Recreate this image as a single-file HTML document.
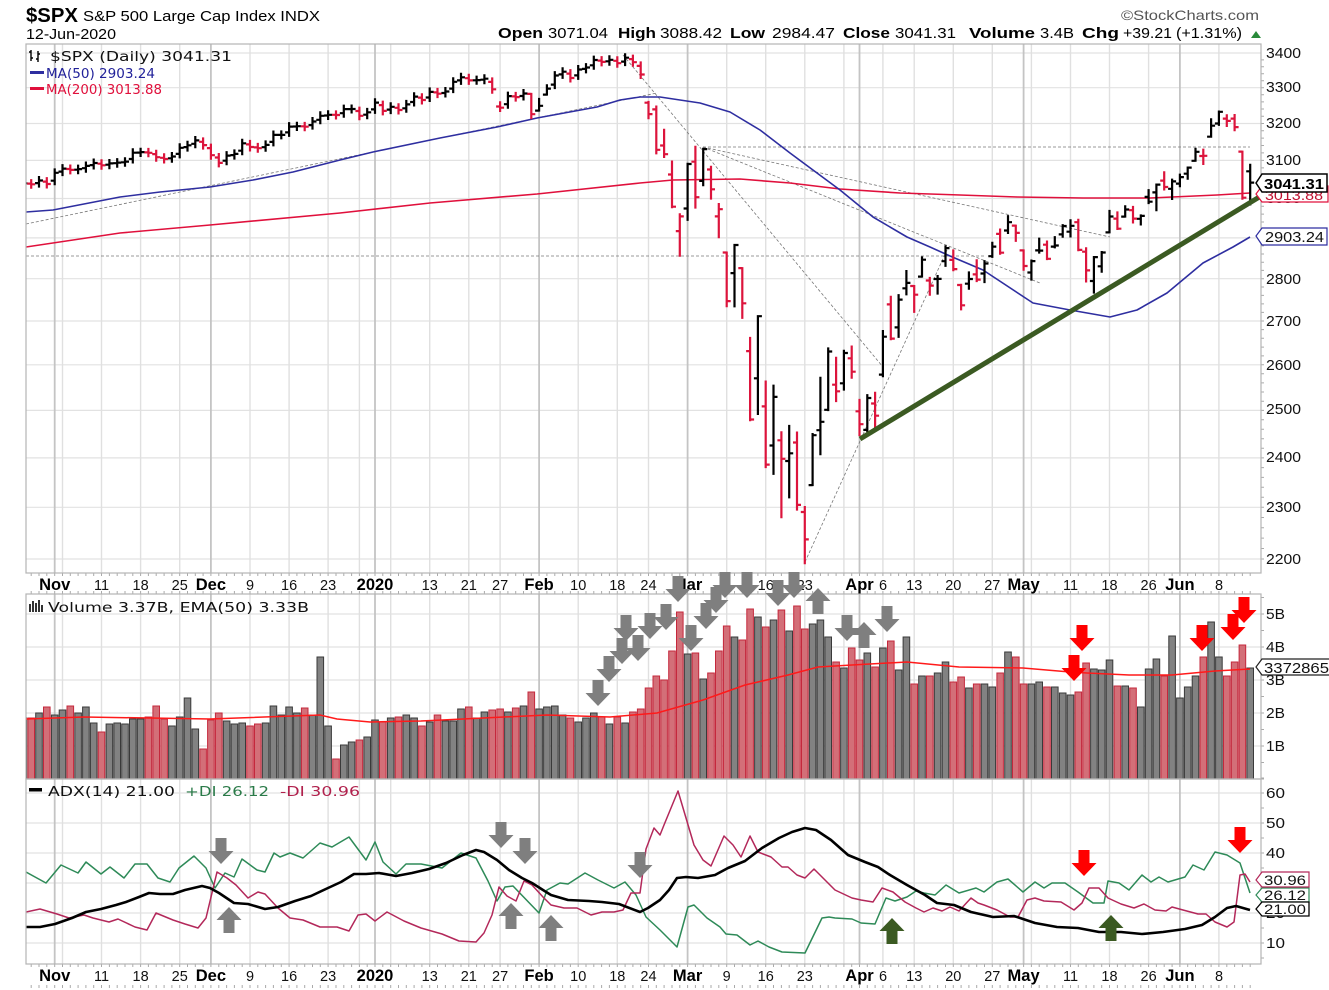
<!DOCTYPE html>
<html><head><meta charset="utf-8">
<style>
html,body{margin:0;padding:0;background:#fff;overflow:hidden;}
svg{display:block;}
text{font-family:"Liberation Sans",Arial,sans-serif;}
.lg{font-family:"DejaVu Sans","Liberation Sans",sans-serif;font-size:13px;}
.ax{font-size:14.5px;fill:#111;}
.mo{font-size:16.5px;font-weight:bold;fill:#000;}
.dy{font-size:14.5px;fill:#111;}
.hb{font-size:15px;font-weight:bold;fill:#000;}
.hn{font-size:15px;fill:#000;}
</style></head><body>
<svg id="s" width="1329" height="990" viewBox="0 0 1329 990" xmlns="http://www.w3.org/2000/svg">
<defs>
<clipPath id="cp"><rect x="26" y="44" width="1235" height="529"/></clipPath>
<clipPath id="cv"><rect x="26" y="594" width="1235" height="185"/></clipPath>
<clipPath id="ca"><rect x="26" y="779" width="1235" height="185"/></clipPath>
</defs>
<rect width="1329" height="990" fill="#fff"/>
<g id="grid"></g>
<g id="ticks"></g>

<!-- PRICE PANEL -->
<g clip-path="url(#cp)">
<g fill="none" stroke="#777" stroke-width="0.8" stroke-dasharray="3 2">
<line x1="26" y1="224" x2="657" y2="93"/>
<line x1="26" y1="256" x2="985" y2="256"/>
<line x1="703" y1="147" x2="1250" y2="147"/>
<line x1="703" y1="147" x2="1110" y2="237"/>
<line x1="703" y1="147" x2="1040" y2="283"/>
<line x1="623" y1="55" x2="883" y2="367"/>
<line x1="805" y1="562" x2="947" y2="250"/>
</g>
<polyline fill="none" stroke="#e0103c" stroke-width="1.6" points="26,247 120,233 210,225 340,213 430,203 537,194 640,183 673,180 740,179 790,183 840,189 900,193 960,195 1017,197 1083,198 1150,198 1217,195 1250,193"/>
<polyline fill="none" stroke="#2e2ea0" stroke-width="1.6" stroke-linejoin="round" points="26,212 53,210 120,197 160,192 210,187 253,180 293,172 340,160 373,152 440,138 497,127 537,118 597,107 620,100 640,97 660,97 700,103 730,112 760,130 790,153 817,173 840,190 873,217 907,237 930,247 950,256 983,270 1033,303 1070,310 1110,317 1137,310 1167,293 1203,263 1233,247 1250,237"/>
<g id="pb"></g>
<line x1="860" y1="439" x2="1261" y2="196" stroke="#3b5a22" stroke-width="5"/>
</g>

<!-- VOLUME PANEL -->
<g clip-path="url(#cv)">
<g id="vb"></g>
<polyline fill="none" stroke="#ff1a1a" stroke-width="1.5" points="26,719 84,717 210,719 320,715 337,719 370,722 421,721 463,719 547,715 610,717 657,713 703,700 745,685 788,675 818,667 852,665 907,662 959,667 1023,668 1070,672 1087,673 1129,675 1172,675 1215,671 1250,669"/>
</g>

<!-- ADX PANEL -->
<g clip-path="url(#ca)" fill="none" stroke-linejoin="round">
<polyline stroke="#2e8a58" stroke-width="1.5" points="26,872 46,883 61,865 78,873 86,862 101,874 110,867 124,878 135,864 147,864 158,878 170,882 179,868 194,856 206,868 215,888 225,873 234,877 242,859 257,870 265,872 274,853 280,857 290,853 303,858 320,843 332,847 349,837 366,860 375,842 383,862 396,874 406,864 421,864 442,868 461,853 476,858 488,881 497,901 505,887 513,886 539,913 547,890 560,883 568,884 585,873 598,880 614,888 625,882 636,895 646,917 660,930 677,947 688,907 694,905 707,918 720,927 726,934 737,935 750,945 758,941 769,947 782,952 805,953 822,918 829,917 835,918 852,919 861,923 875,924 886,898 895,901 907,897 916,891 924,893 935,895 946,885 959,893 976,888 984,892 997,882 1008,879 1023,892 1035,882 1044,888 1052,883 1065,883 1078,892 1093,903 1104,903 1108,881 1119,883 1129,890 1142,875 1151,882 1159,877 1168,882 1185,877 1193,865 1204,870 1215,852 1227,855 1240,863 1246,881 1250,893"/>
<polyline stroke="#b3285a" stroke-width="1.5" points="26,912 40,909 57,914 69,918 84,915 93,918 109,922 118,919 135,927 147,930 156,913 173,920 185,924 198,928 206,918 217,872 227,878 236,885 248,898 258,892 265,894 278,908 290,918 303,920 320,927 337,927 349,931 358,915 366,914 375,921 387,912 404,921 421,928 442,934 459,941 476,942 484,933 492,915 499,887 507,896 516,901 524,881 532,885 543,897 551,905 564,908 577,908 591,915 602,912 614,912 623,910 631,893 640,893 646,849 654,828 660,835 664,825 671,808 678,791 686,818 694,845 703,860 711,866 724,836 733,845 741,857 750,836 758,852 771,857 782,867 788,867 797,875 805,878 814,869 822,877 835,890 852,898 861,900 873,902 882,888 893,892 905,902 916,908 924,912 933,908 942,911 950,907 959,911 971,898 978,903 984,905 997,910 1010,917 1018,917 1027,900 1035,898 1044,901 1061,902 1074,910 1082,903 1089,888 1099,888 1108,898 1121,904 1134,908 1144,904 1155,910 1166,911 1172,907 1183,910 1198,914 1206,914 1215,922 1227,927 1234,922 1240,875 1245,874 1250,882"/>
<polyline stroke="#000" stroke-width="2.6" points="26,927 40,927 55,924 72,918 86,912 101,909 116,905 126,902 139,897 149,893 160,894 173,894 185,890 202,886 210,888 219,893 234,903 248,904 265,909 278,907 295,901 311,896 328,888 341,882 354,874 366,874 379,873 396,876 412,873 429,869 446,863 463,855 476,850 484,852 497,860 509,870 522,878 532,883 543,890 551,895 568,900 589,901 602,902 619,904 640,912 648,908 660,900 669,890 677,878 686,877 698,878 715,875 728,868 745,861 762,848 779,838 792,832 805,828 816,830 831,840 848,855 865,862 878,867 890,875 907,885 925,895 937,903 954,905 971,912 993,917 1014,916 1035,923 1057,927 1078,928 1099,932 1121,932 1142,934 1163,932 1185,929 1202,925 1215,917 1227,908 1236,906 1250,910"/>
</g>

<!-- Panel borders -->
<g fill="none" stroke="#b4b4b4" stroke-width="1.2">
<rect x="26" y="44" width="1235" height="529"/>
<rect x="26" y="594" width="1235" height="185"/>
<rect x="26" y="779" width="1235" height="185"/>
</g>

<!-- Header -->
<text x="26" y="22" font-size="20" font-weight="bold" textLength="52" lengthAdjust="spacingAndGlyphs">$SPX</text>
<text x="83" y="21" font-size="15" textLength="237" lengthAdjust="spacingAndGlyphs">S&amp;P 500 Large Cap Index  INDX</text>
<text x="26" y="39" font-size="14.5" textLength="90" lengthAdjust="spacingAndGlyphs">12-Jun-2020</text>
<text x="1121" y="20" font-size="14" fill="#555" textLength="138" lengthAdjust="spacingAndGlyphs">©StockCharts.com</text>
<text x="498" y="38" class="hb" textLength="45" lengthAdjust="spacingAndGlyphs">Open</text>
<text x="548" y="38" class="hn" textLength="60" lengthAdjust="spacingAndGlyphs">3071.04</text>
<text x="618" y="38" class="hb" textLength="38" lengthAdjust="spacingAndGlyphs">High</text>
<text x="660" y="38" class="hn" textLength="62" lengthAdjust="spacingAndGlyphs">3088.42</text>
<text x="730" y="38" class="hb" textLength="35" lengthAdjust="spacingAndGlyphs">Low</text>
<text x="772" y="38" class="hn" textLength="63" lengthAdjust="spacingAndGlyphs">2984.47</text>
<text x="843" y="38" class="hb" textLength="47" lengthAdjust="spacingAndGlyphs">Close</text>
<text x="895" y="38" class="hn" textLength="61" lengthAdjust="spacingAndGlyphs">3041.31</text>
<text x="969" y="38" class="hb" textLength="66" lengthAdjust="spacingAndGlyphs">Volume</text>
<text x="1040" y="38" class="hn" textLength="34" lengthAdjust="spacingAndGlyphs">3.4B</text>
<text x="1082" y="38" class="hb" textLength="37" lengthAdjust="spacingAndGlyphs">Chg</text>
<text x="1123" y="38" class="hn" textLength="49" lengthAdjust="spacingAndGlyphs">+39.21</text>
<text x="1176" y="38" class="hn" textLength="66" lengthAdjust="spacingAndGlyphs">(+1.31%)</text>
<path d="M1251 38 L1256 31 L1261 38 Z" fill="#2a8a3a"/>

<!-- Price legend -->
<path d="M31 50V61M29 52H31M31 58H33M38 51V62M36 59H38M38 54H40" stroke="#000" stroke-width="1.4" fill="none"/>
<text x="50" y="61" class="lg" fill="#111" textLength="182" lengthAdjust="spacingAndGlyphs">$SPX (Daily) 3041.31</text>
<rect x="30" y="71" width="14" height="3" fill="#2e2ea0"/>
<text x="46" y="78" class="lg" fill="#22229a" textLength="109" lengthAdjust="spacingAndGlyphs">MA(50) 2903.24</text>
<rect x="30" y="87" width="14" height="3" fill="#e0103c"/>
<text x="46" y="94" class="lg" fill="#e0103c" textLength="116" lengthAdjust="spacingAndGlyphs">MA(200) 3013.88</text>

<!-- Volume legend -->
<path d="M30 612V604M33 612V601M36 612V603M39 612V600M42 612V605" stroke="#333" stroke-width="2" fill="none"/>
<text x="48" y="612" class="lg" fill="#111" textLength="261" lengthAdjust="spacingAndGlyphs">Volume 3.37B, EMA(50) 3.33B</text>

<!-- ADX legend -->
<rect x="29" y="788" width="13" height="3.5" fill="#000"/>
<text x="48" y="796" class="lg" fill="#111" textLength="127" lengthAdjust="spacingAndGlyphs">ADX(14) 21.00</text>
<text x="185" y="796" class="lg" fill="#2a7a48" textLength="84" lengthAdjust="spacingAndGlyphs">+DI 26.12</text>
<text x="280" y="796" class="lg" fill="#b0204c" textLength="80" lengthAdjust="spacingAndGlyphs">-DI 30.96</text>

<!-- Right axis: price -->
<g class="ax">
<text x="1266" y="58" textLength="35" lengthAdjust="spacingAndGlyphs">3400</text>
<text x="1266" y="92" textLength="35" lengthAdjust="spacingAndGlyphs">3300</text>
<text x="1266" y="128" textLength="35" lengthAdjust="spacingAndGlyphs">3200</text>
<text x="1266" y="165" textLength="35" lengthAdjust="spacingAndGlyphs">3100</text>
<text x="1266" y="203" textLength="35" lengthAdjust="spacingAndGlyphs">3000</text>
<text x="1266" y="242" textLength="35" lengthAdjust="spacingAndGlyphs">2900</text>
<text x="1266" y="284" textLength="35" lengthAdjust="spacingAndGlyphs">2800</text>
<text x="1266" y="326" textLength="35" lengthAdjust="spacingAndGlyphs">2700</text>
<text x="1266" y="370" textLength="35" lengthAdjust="spacingAndGlyphs">2600</text>
<text x="1266" y="414" textLength="35" lengthAdjust="spacingAndGlyphs">2500</text>
<text x="1266" y="462" textLength="35" lengthAdjust="spacingAndGlyphs">2400</text>
<text x="1266" y="512" textLength="35" lengthAdjust="spacingAndGlyphs">2300</text>
<text x="1266" y="564" textLength="35" lengthAdjust="spacingAndGlyphs">2200</text>
<!-- volume -->
<text x="1266" y="619" textLength="19" lengthAdjust="spacingAndGlyphs">5B</text>
<text x="1266" y="652" textLength="19" lengthAdjust="spacingAndGlyphs">4B</text>
<text x="1266" y="685" textLength="19" lengthAdjust="spacingAndGlyphs">3B</text>
<text x="1266" y="718" textLength="19" lengthAdjust="spacingAndGlyphs">2B</text>
<text x="1266" y="751" textLength="19" lengthAdjust="spacingAndGlyphs">1B</text>
<!-- adx -->
<text x="1266" y="798" textLength="19" lengthAdjust="spacingAndGlyphs">60</text>
<text x="1266" y="828" textLength="19" lengthAdjust="spacingAndGlyphs">50</text>
<text x="1266" y="858" textLength="19" lengthAdjust="spacingAndGlyphs">40</text>
<text x="1266" y="888" textLength="19" lengthAdjust="spacingAndGlyphs">30</text>
<text x="1266" y="918" textLength="19" lengthAdjust="spacingAndGlyphs">20</text>
<text x="1266" y="948" textLength="19" lengthAdjust="spacingAndGlyphs">10</text>
</g>

<!-- X axis labels (price panel) -->
<g text-anchor="middle">
<text x="54.7" y="590" class="mo">Nov</text>
<text x="101.5" y="590" class="dy">11</text>
<text x="140.6" y="590" class="dy">18</text>
<text x="179.7" y="590" class="dy">25</text>
<text x="210.9" y="590" class="mo">Dec</text>
<text x="250" y="590" class="dy">9</text>
<text x="289.1" y="590" class="dy">16</text>
<text x="328.1" y="590" class="dy">23</text>
<text x="375" y="590" class="mo">2020</text>
<text x="429.7" y="590" class="dy">13</text>
<text x="468.8" y="590" class="dy">21</text>
<text x="500.1" y="590" class="dy">27</text>
<text x="539.1" y="590" class="mo">Feb</text>
<text x="578.2" y="590" class="dy">10</text>
<text x="617.3" y="590" class="dy">18</text>
<text x="648.5" y="590" class="dy">24</text>
<text x="687.6" y="590" class="mo">Mar</text>
<text x="726.7" y="590" class="dy">9</text>
<text x="765.7" y="590" class="dy">16</text>
<text x="804.8" y="590" class="dy">23</text>
<text x="859.5" y="590" class="mo">Apr</text>
<text x="883" y="590" class="dy">6</text>
<text x="914.2" y="590" class="dy">13</text>
<text x="953.3" y="590" class="dy">20</text>
<text x="992.3" y="590" class="dy">27</text>
<text x="1023.6" y="590" class="mo">May</text>
<text x="1070.5" y="590" class="dy">11</text>
<text x="1109.5" y="590" class="dy">18</text>
<text x="1148.6" y="590" class="dy">26</text>
<text x="1179.9" y="590" class="mo">Jun</text>
<text x="1219" y="590" class="dy">8</text>
</g>
<!-- X axis labels (bottom) -->
<g text-anchor="middle">
<text x="54.7" y="981" class="mo">Nov</text>
<text x="101.5" y="981" class="dy">11</text>
<text x="140.6" y="981" class="dy">18</text>
<text x="179.7" y="981" class="dy">25</text>
<text x="210.9" y="981" class="mo">Dec</text>
<text x="250" y="981" class="dy">9</text>
<text x="289.1" y="981" class="dy">16</text>
<text x="328.1" y="981" class="dy">23</text>
<text x="375" y="981" class="mo">2020</text>
<text x="429.7" y="981" class="dy">13</text>
<text x="468.8" y="981" class="dy">21</text>
<text x="500.1" y="981" class="dy">27</text>
<text x="539.1" y="981" class="mo">Feb</text>
<text x="578.2" y="981" class="dy">10</text>
<text x="617.3" y="981" class="dy">18</text>
<text x="648.5" y="981" class="dy">24</text>
<text x="687.6" y="981" class="mo">Mar</text>
<text x="726.7" y="981" class="dy">9</text>
<text x="765.7" y="981" class="dy">16</text>
<text x="804.8" y="981" class="dy">23</text>
<text x="859.5" y="981" class="mo">Apr</text>
<text x="883" y="981" class="dy">6</text>
<text x="914.2" y="981" class="dy">13</text>
<text x="953.3" y="981" class="dy">20</text>
<text x="992.3" y="981" class="dy">27</text>
<text x="1023.6" y="981" class="mo">May</text>
<text x="1070.5" y="981" class="dy">11</text>
<text x="1109.5" y="981" class="dy">18</text>
<text x="1148.6" y="981" class="dy">26</text>
<text x="1179.9" y="981" class="mo">Jun</text>
<text x="1219" y="981" class="dy">8</text>
</g>

<g id="arr"></g>

<!-- Value tags: price -->
<path d="M1256 194 L1262 186 H1328 V202 H1262 Z" fill="#fff" stroke="#e0103c" stroke-width="1.2"/>
<text x="1265" y="200" font-size="14" fill="#c01030" textLength="58" lengthAdjust="spacingAndGlyphs">3013.88</text>
<path d="M1256 183 L1262 174 H1327 V192 H1262 Z" fill="#fff" stroke="#000" stroke-width="1.5"/>
<text x="1264" y="189" font-size="15" font-weight="bold" textLength="60" lengthAdjust="spacingAndGlyphs">3041.31</text>
<path d="M1256 236 L1262 228 H1327 V245 H1262 Z" fill="#fff" stroke="#2e2ea0" stroke-width="1.2"/>
<text x="1265" y="242" font-size="14.5" fill="#111" textLength="59" lengthAdjust="spacingAndGlyphs">2903.24</text>
<!-- volume tag -->
<path d="M1256 667 L1262 659 H1331 V675 H1262 Z" fill="#fff" stroke="#222" stroke-width="1.2"/>
<text x="1264" y="673" font-size="14.5" fill="#111" textLength="65" lengthAdjust="spacingAndGlyphs">3372865</text>
<!-- ADX tags -->
<path d="M1256 895 L1262 888 H1309 V902 H1262 Z" fill="#fff" stroke="#2e8a58" stroke-width="1.2"/>
<text x="1264" y="900" font-size="14" fill="#111" textLength="42" lengthAdjust="spacingAndGlyphs">26.12</text>
<path d="M1256 880 L1262 872 H1309 V887 H1262 Z" fill="#fff" stroke="#b3285a" stroke-width="1.2"/>
<text x="1264" y="885" font-size="14" fill="#111" textLength="42" lengthAdjust="spacingAndGlyphs">30.96</text>
<path d="M1256 909 L1262 902 H1309 V916 H1262 Z" fill="#fff" stroke="#000" stroke-width="1.3"/>
<text x="1264" y="914" font-size="14" fill="#111" textLength="42" lengthAdjust="spacingAndGlyphs">21.00</text>
</svg>

<script>
(function(){
var NS="http://www.w3.org/2000/svg";
function add(g,tag,a){var e=document.createElementNS(NS,tag);for(var k in a)e.setAttribute(k,a[k]);document.getElementById(g).appendChild(e);return e;}
function X(i){return 23.4+7.814*i;}
function PY(v){return 53+1162.4*Math.log(3400/v);}
function f(n){return n.toFixed(1);}
var C=[3039.42,3036.89,3046.77,3037.56,3066.91,3078.27,3074.62,3076.78,3085.18,3093.08,
3087.01,3091.84,3094.04,3096.63,3120.46,3122.03,3120.18,3108.46,3103.54,3110.29,
3133.64,3140.52,3153.63,3140.98,3113.87,3093.20,3112.76,3117.43,3145.91,3135.96,
3132.52,3141.63,3168.57,3168.80,3191.45,3192.52,3191.14,3205.37,3221.22,3224.01,
3223.38,3239.91,3240.02,3221.29,3230.78,3257.85,3234.85,3246.28,3237.18,3253.05,
3274.70,3265.35,3288.13,3283.15,3289.29,3316.81,3329.62,3320.79,3321.75,3325.54,
3295.47,3243.63,3276.24,3273.40,3283.66,3225.52,3248.92,3297.59,3334.69,3345.78,
3327.71,3352.09,3357.75,3379.45,3373.94,3380.16,3370.29,3386.15,3373.23,3337.75,
3225.89,3128.21,3116.39,2978.76,2954.22,3090.23,3003.37,3130.12,3023.94,2972.37,
2746.56,2882.23,2741.38,2480.64,2711.02,2386.13,2529.19,2398.10,2409.39,2304.92,
2237.40,2447.33,2475.56,2630.07,2541.47,2626.65,2584.59,2470.50,2526.90,2488.65,
2663.68,2659.41,2749.98,2789.82,2761.63,2846.06,2783.36,2799.55,2874.56,2823.16,
2736.56,2799.31,2797.80,2836.74,2878.48,2863.39,2939.51,2912.43,2830.71,2842.74,
2868.44,2848.42,2881.19,2929.80,2930.32,2870.12,2820.00,2852.50,2863.70,2953.91,
2922.94,2971.61,2948.51,2955.45,2991.77,3036.13,3029.73,3044.31,3055.73,3080.82,
3122.87,3112.35,3193.93,3232.39,3207.18,3190.14,3002.10,3041.31];
var OV={61:[3247.16,3258.85,3234.50],65:[3282.33,3282.33,3214.68],66:[3235.66,3268.44,3235.66],67:[3280.61,3306.92,3280.61],
80:[3257.61,3259.81,3214.65],81:[3238.94,3246.99,3118.77],82:[3139.90,3182.51,3108.99],83:[3062.54,3097.07,2977.39],84:[2916.90,2959.72,2855.84],
85:[2974.28,3090.96,2945.19],86:[3096.46,3136.72,2976.63],87:[3045.75,3130.97,3034.38],88:[3075.70,3083.04,2999.83],89:[2954.20,2985.93,2901.54],
90:[2863.89,2863.89,2734.43],91:[2813.48,2882.59,2734.00],92:[2825.60,2825.60,2707.22],93:[2630.86,2660.95,2478.86],94:[2569.99,2711.33,2492.37],
95:[2508.59,2562.98,2380.94],96:[2425.66,2553.93,2367.04],97:[2436.50,2453.57,2280.52],98:[2393.48,2466.97,2319.78],99:[2431.94,2453.01,2295.56],
100:[2290.71,2300.73,2191.86],101:[2344.44,2449.71,2344.44],102:[2457.77,2571.42,2407.53],103:[2501.29,2637.01,2500.72],104:[2555.87,2615.91,2520.02],
105:[2558.98,2631.80,2545.28],106:[2614.69,2641.39,2571.15],107:[2498.08,2522.75,2447.49],108:[2458.54,2533.22,2455.79],109:[2514.92,2538.18,2459.96],
110:[2578.28,2676.85,2574.57],111:[2738.65,2756.89,2657.67],112:[2685.00,2760.75,2663.30],113:[2776.99,2818.57,2762.36],114:[2782.46,2782.46,2721.17],
115:[2805.10,2851.85,2805.10],116:[2795.64,2801.88,2761.54],117:[2799.34,2806.51,2764.32],118:[2842.43,2879.22,2830.88],119:[2845.62,2868.98,2820.43],
120:[2784.81,2785.54,2727.10],121:[2787.89,2815.10,2775.95],122:[2810.42,2844.90,2794.26],123:[2812.64,2842.71,2791.76],124:[2854.65,2887.72,2852.89],
125:[2909.96,2921.15,2860.71],126:[2918.46,2954.86,2912.16],127:[2930.91,2930.91,2892.47],128:[2869.09,2869.09,2821.61],129:[2815.01,2844.24,2797.85],
130:[2868.88,2898.23,2863.55],131:[2883.14,2891.11,2847.65],132:[2878.26,2901.92,2876.48],133:[2908.83,2932.16,2902.88],134:[2915.46,2944.25,2903.44],
135:[2939.50,2945.82,2869.59],136:[2865.86,2874.14,2793.15],137:[2794.54,2852.80,2766.64],138:[2829.95,2865.01,2816.78],139:[2913.86,2968.09,2913.86],
140:[2948.59,2964.21,2922.35],141:[2953.63,2980.29,2953.63],142:[2969.95,2978.50,2938.57],143:[2948.05,2956.76,2933.59],144:[3004.08,3021.72,2988.17],
145:[3015.65,3036.25,2969.75],146:[3046.61,3068.67,3023.40],147:[3025.17,3049.17,2998.61],148:[3038.78,3062.18,3031.54],149:[3064.78,3081.07,3051.64],
150:[3098.90,3130.94,3098.90],151:[3111.56,3128.91,3090.41],152:[3163.84,3211.72,3163.84],153:[3199.92,3233.13,3196.00],154:[3213.32,3222.71,3193.11],
155:[3213.42,3223.27,3181.49],156:[3123.53,3123.53,2999.49],157:[3071.04,3088.42,2984.47]};
var VT=[718,
718,713,707,715,710,706,713,707,723,732,
724,723,724,719,719,717,706,719,726,717,
698,729,749,720,713,721,724,723,726,724,
723,706,715,707,713,708,715,657,726,759,
745,742,740,737,720,722,718,717,715,718,
726,722,715,721,721,709,707,718,712,710,
709,712,708,706,692,709,707,706,715,718,
722,718,713,717,724,717,723,712,709,688,
676,
680,651,612,654,653,679,673,651,626,637,
640,609,617,627,620,610,631,606,629,624,
620,637,662,668,648,660,653,667,648,641,
670,637,684,676,676,673,662,682,677,688,
684,684,687,673,652,657,684,684,682,687,
687,693,695,692,663,669,670,660,686,686,
688,707,669,659,676,636,698,687,676,657,
622,657,676,662,645,668];

/* grid */
var W=[5,10,15,20,24,29,34,39,43,47,52,57,61,66,71,76,80,85,90,95,100,105,110,114,119,124,129,134,139,144,148,153];
var M=[4,24,45,66,85,107,128,148];
var P=[[44,573],[594,779],[779,964]];
var gw='',gm='',gh='',i,j,v;
for(i=0;i<W.length;i++){if(M.indexOf(W[i])>=0)continue;var x=f(X(W[i]));for(j=0;j<3;j++)gw+='M'+x+' '+P[j][0]+'V'+P[j][1];}
for(i=0;i<M.length;i++){var x2=f(X(M[i]));for(j=0;j<3;j++)gm+='M'+x2+' '+P[j][0]+'V'+P[j][1];}
for(v=2200;v<=3400;v+=100)gh+='M26 '+f(PY(v))+'H1261';
for(v=1;v<=5;v++)gh+='M26 '+(779-33*v)+'H1261';
for(v=10;v<=60;v+=10)gh+='M26 '+(973-3*v)+'H1261';
add('grid','path',{d:gh,stroke:'#e2e2e2','stroke-width':1.2,fill:'none'});
add('grid','path',{d:gw,stroke:'#e0e0e0','stroke-width':1.4,fill:'none'});
add('grid','path',{d:gm,stroke:'#c4c4c4','stroke-width':1.8,fill:'none'});

/* ticks */
var tk='';
for(i=1;i<158;i++){var xx=f(X(i));tk+='M'+xx+' 573V576M'+xx+' 591V594M'+xx+' 964V967M'+xx+' 985V988';}
for(v=2200;v<3400;v+=20){tk+='M1261 '+f(PY(v))+'H1264';}
for(v=0;v<=5.5;v+=0.5){tk+='M1261 '+f(779-33*v)+'H1264';}
for(v=5;v<=65;v+=5){tk+='M1261 '+(973-3*v)+'H1264';}
add('ticks','path',{d:tk,stroke:'#aaa','stroke-width':1,fill:'none'});

/* price & volume bars */
var prev=3022.55,pb='',pr='',vb='',vr='';
for(i=0;i<C.length;i++){
 var c=C[i],o,h,l;
 if(OV[i]){o=OV[i][0];h=OV[i][1];l=OV[i][2];}
 else{o=prev+(c-prev)*0.3;var r=0.003;h=Math.max(o,c)*(1+r);l=Math.min(o,c)*(1-r);}
 var xb=X(i);
 var d='M'+f(xb)+' '+f(PY(h)-1)+'V'+f(PY(l)+1)+'M'+f(xb-4)+' '+f(PY(o))+'H'+f(xb)+'M'+f(xb)+' '+f(PY(c))+'H'+f(xb+4);
 var up=c>=prev;
 if(up)pb+=d;else pr+=d;
 var t=VT[i];
 var vd='M'+f(xb-3.3)+' 779V'+t+'H'+f(xb+3.3)+'V779Z';
 if(up)vb+=vd;else vr+=vd;
 prev=c;
}
add('pb','path',{d:pb,stroke:'#000','stroke-width':2.2,fill:'none'});
add('pb','path',{d:pr,stroke:'#dc143c','stroke-width':2.2,fill:'none'});
add('vb','path',{d:vb,fill:'#828282',stroke:'#3a3a3a','stroke-width':1});
add('vb','path',{d:vr,fill:'#d36f78',stroke:'#c4283c','stroke-width':1});

/* arrows */
function arrow(cx,top,dir,col){var h=26,hw=12.5,sw=5.5,hh=13,dd;
 if(dir==='d')dd='M'+(cx-sw)+' '+top+'H'+(cx+sw)+'V'+(top+h-hh)+'H'+(cx+hw)+'L'+cx+' '+(top+h)+'L'+(cx-hw)+' '+(top+h-hh)+'H'+(cx-sw)+'Z';
 else dd='M'+(cx-sw)+' '+(top+h)+'H'+(cx+sw)+'V'+(top+hh)+'H'+(cx+hw)+'L'+cx+' '+top+'L'+(cx-hw)+' '+(top+hh)+'H'+(cx-sw)+'Z';
 add('arr','path',{d:dd,fill:col});}
var G='#7f7f7f',R='#ff0000',GR='#3b5a22';
var A=[[598,680,'d',G],[609,656,'d',G],[626,615,'d',G],[622,638,'d',G],[638,635,'d',G],[650,613,'d',G],[666,604,'d',G],[678,576,'d',G],
[691,625,'d',G],[706,603,'d',G],[716,587,'d',G],[725,572,'d',G],[747,572,'d',G],[778,580,'d',G],[794,572,'d',G],[818,588,'u',G],
[847,615,'d',G],[864,622,'u',G],[887,606,'d',G],
[1082,625,'d',R],[1074,655,'d',R],[1202,625,'d',R],[1233,614,'d',R],[1244,597,'d',R],
[221,838,'d',G],[229,907,'u',G],[501,822,'d',G],[525,838,'d',G],[511,903,'u',G],[551,915,'u',G],[640,852,'d',G],
[892,918,'u',GR],[1111,915,'u',GR],[1084,850,'d',R],[1240,827,'d',R]];
for(i=0;i<A.length;i++)arrow(A[i][0],A[i][1],A[i][2],A[i][3]);
})();
</script>
</body></html>
